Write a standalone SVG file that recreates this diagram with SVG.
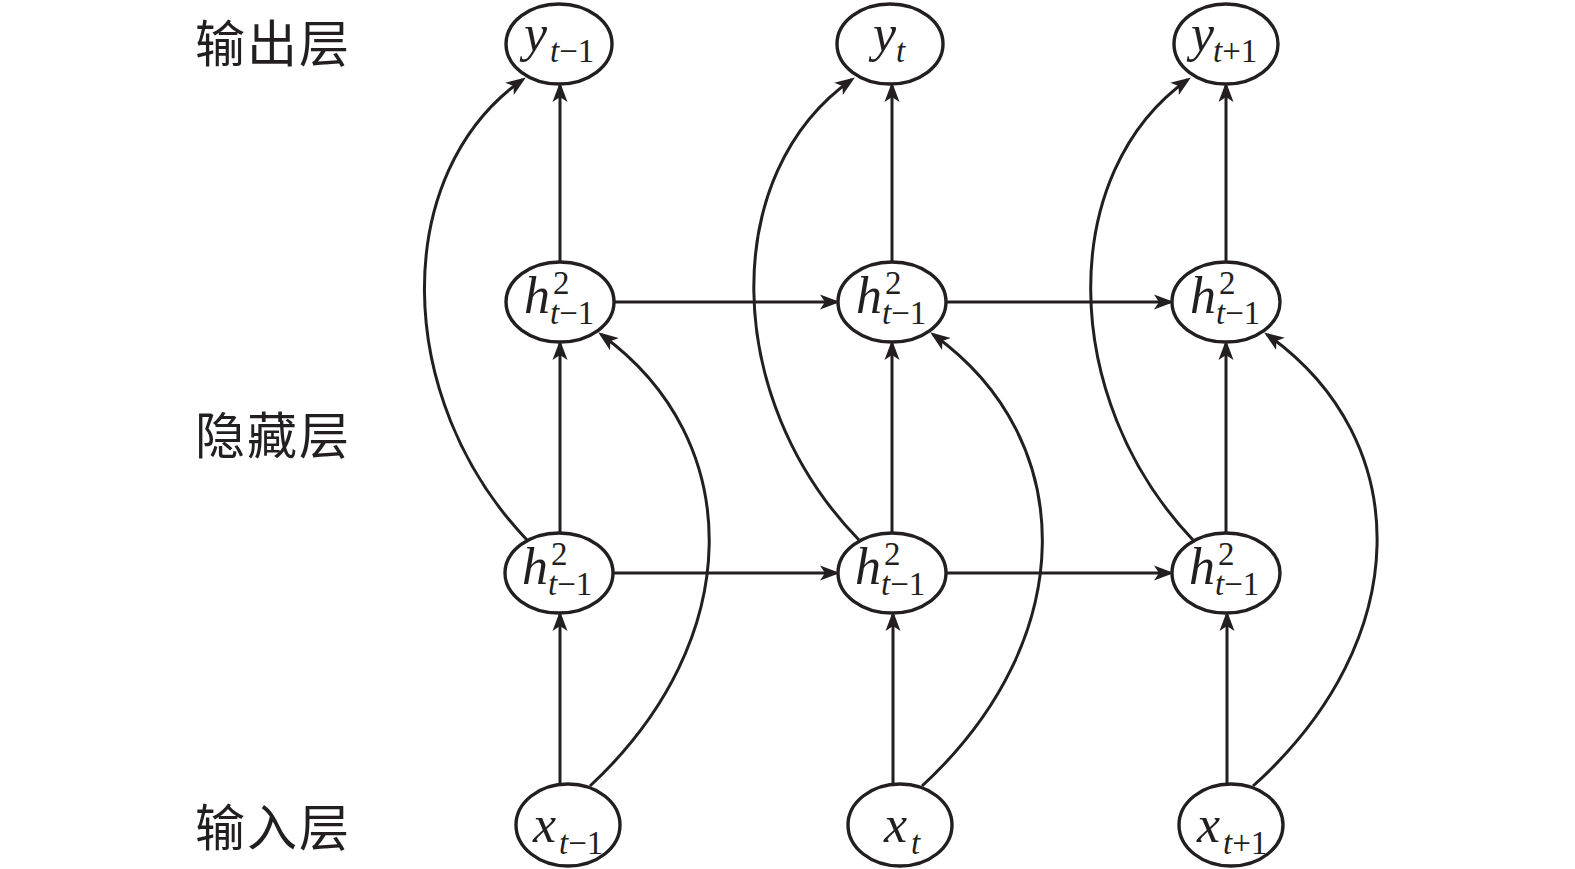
<svg xmlns="http://www.w3.org/2000/svg" width="1575" height="869" viewBox="0 0 1575 869">
<style>
.nd{fill:#fff;stroke:#231f20;stroke-width:3.4}
.cn{fill:none;stroke:#231f20;stroke-width:3}
.t{font-family:"Liberation Serif","Times New Roman",serif;font-size:33px;fill:#231f20}
.m{font-style:italic;font-size:52px}
.i{font-style:italic}
.lb{font-family:"Noto Sans CJK SC",sans-serif;font-size:50px;font-weight:400;letter-spacing:2px;fill:#231f20}
</style>
<defs>
<marker id="ah" markerUnits="userSpaceOnUse" markerWidth="24" markerHeight="18" viewBox="0 -9 24 18" refX="16" refY="0" orient="auto">
<path d="M0,-7.5 L20,0 L0,7.5 L5,0 Z" fill="#231f20"/>
</marker>
</defs>
<rect width="1575" height="869" fill="#fff"/>
<g id="layer-labels">
<text class="lb" x="195" y="62">输出层</text>
<text class="lb" x="195" y="454">隐藏层</text>
<text class="lb" x="195" y="846">输入层</text>
</g>
<g id="connectors">
<path class="cn" d="M560,262 V86" marker-end="url(#ah)"/>
<path class="cn" d="M560,533 V344" marker-end="url(#ah)"/>
<path class="cn" d="M560,785 V615" marker-end="url(#ah)"/>
<path class="cn" d="M892,262 V86" marker-end="url(#ah)"/>
<path class="cn" d="M892,533 V344" marker-end="url(#ah)"/>
<path class="cn" d="M893,785 V615" marker-end="url(#ah)"/>
<path class="cn" d="M1226,262 V86" marker-end="url(#ah)"/>
<path class="cn" d="M1226,533 V344" marker-end="url(#ah)"/>
<path class="cn" d="M1227,785 V615" marker-end="url(#ah)"/>
<path class="cn" d="M614,302 H836" marker-end="url(#ah)"/>
<path class="cn" d="M946,302 H1170" marker-end="url(#ah)"/>
<path class="cn" d="M613,573 H836" marker-end="url(#ah)"/>
<path class="cn" d="M946,573 H1170" marker-end="url(#ah)"/>
<path class="cn" d="M527,540 C391,397 391,172 522.6,79.7" marker-end="url(#ah)"/>
<path class="cn" d="M859,540 C720,397 720,172 851.6,79.7" marker-end="url(#ah)"/>
<path class="cn" d="M1193,540 C1057.5,397 1057.5,172 1187.6,79.7" marker-end="url(#ah)"/>
<path class="cn" d="M590,786 C747,640 747,440 601.4,334.7" marker-end="url(#ah)"/>
<path class="cn" d="M922,786 C1080.5,640 1080.5,440 933.4,334.7" marker-end="url(#ah)"/>
<path class="cn" d="M1253,786 C1416,640 1416,440 1267.4,334.7" marker-end="url(#ah)"/>
</g>
<g id="y1"><ellipse class="nd" cx="559" cy="44" rx="53" ry="40"/><text class="t"><tspan class="m" x="524" y="51">y</tspan><tspan class="i" x="550" y="62">t</tspan>−1</text></g>
<g id="y2"><ellipse class="nd" cx="890" cy="44" rx="53" ry="40"/><text class="t"><tspan class="m" x="873" y="51">y</tspan><tspan class="i" x="896" y="62">t</tspan></text></g>
<g id="y3"><ellipse class="nd" cx="1226" cy="44" rx="52" ry="40"/><text class="t"><tspan class="m" x="1191" y="51">y</tspan><tspan class="i" x="1213" y="62">t</tspan>+1</text></g>
<g id="h2a"><ellipse class="nd" cx="560" cy="302" rx="54" ry="40"/><text class="t"><tspan class="m" x="524" y="313">h</tspan><tspan x="553" y="294">2</tspan><tspan class="i" x="550" y="324">t</tspan>−1</text></g>
<g id="h2b"><ellipse class="nd" cx="892" cy="302" rx="54" ry="40"/><text class="t"><tspan class="m" x="856" y="313">h</tspan><tspan x="885" y="294">2</tspan><tspan class="i" x="882" y="324">t</tspan>−1</text></g>
<g id="h2c"><ellipse class="nd" cx="1226" cy="302" rx="54" ry="40"/><text class="t"><tspan class="m" x="1190" y="313">h</tspan><tspan x="1219" y="294">2</tspan><tspan class="i" x="1216" y="324">t</tspan>−1</text></g>
<g id="h1a"><ellipse class="nd" cx="559" cy="573" rx="54" ry="40"/><text class="t"><tspan class="m" x="522" y="584">h</tspan><tspan x="551" y="565">2</tspan><tspan class="i" x="548" y="595">t</tspan>−1</text></g>
<g id="h1b"><ellipse class="nd" cx="892" cy="573" rx="54" ry="40"/><text class="t"><tspan class="m" x="855" y="584">h</tspan><tspan x="884" y="565">2</tspan><tspan class="i" x="881" y="595">t</tspan>−1</text></g>
<g id="h1c"><ellipse class="nd" cx="1226" cy="573" rx="54" ry="40"/><text class="t"><tspan class="m" x="1189" y="584">h</tspan><tspan x="1218" y="565">2</tspan><tspan class="i" x="1215" y="595">t</tspan>−1</text></g>
<g id="x1"><ellipse class="nd" cx="568" cy="825" rx="52" ry="41"/><text class="t"><tspan class="m" x="533" y="842">x</tspan><tspan class="i" x="559" y="854">t</tspan>−1</text></g>
<g id="x2"><ellipse class="nd" cx="900" cy="825" rx="52" ry="41"/><text class="t"><tspan class="m" x="884" y="842">x</tspan><tspan class="i" x="911" y="854">t</tspan></text></g>
<g id="x3"><ellipse class="nd" cx="1231" cy="825" rx="52" ry="41"/><text class="t"><tspan class="m" x="1197" y="842">x</tspan><tspan class="i" x="1223" y="854">t</tspan>+1</text></g>
</svg>
